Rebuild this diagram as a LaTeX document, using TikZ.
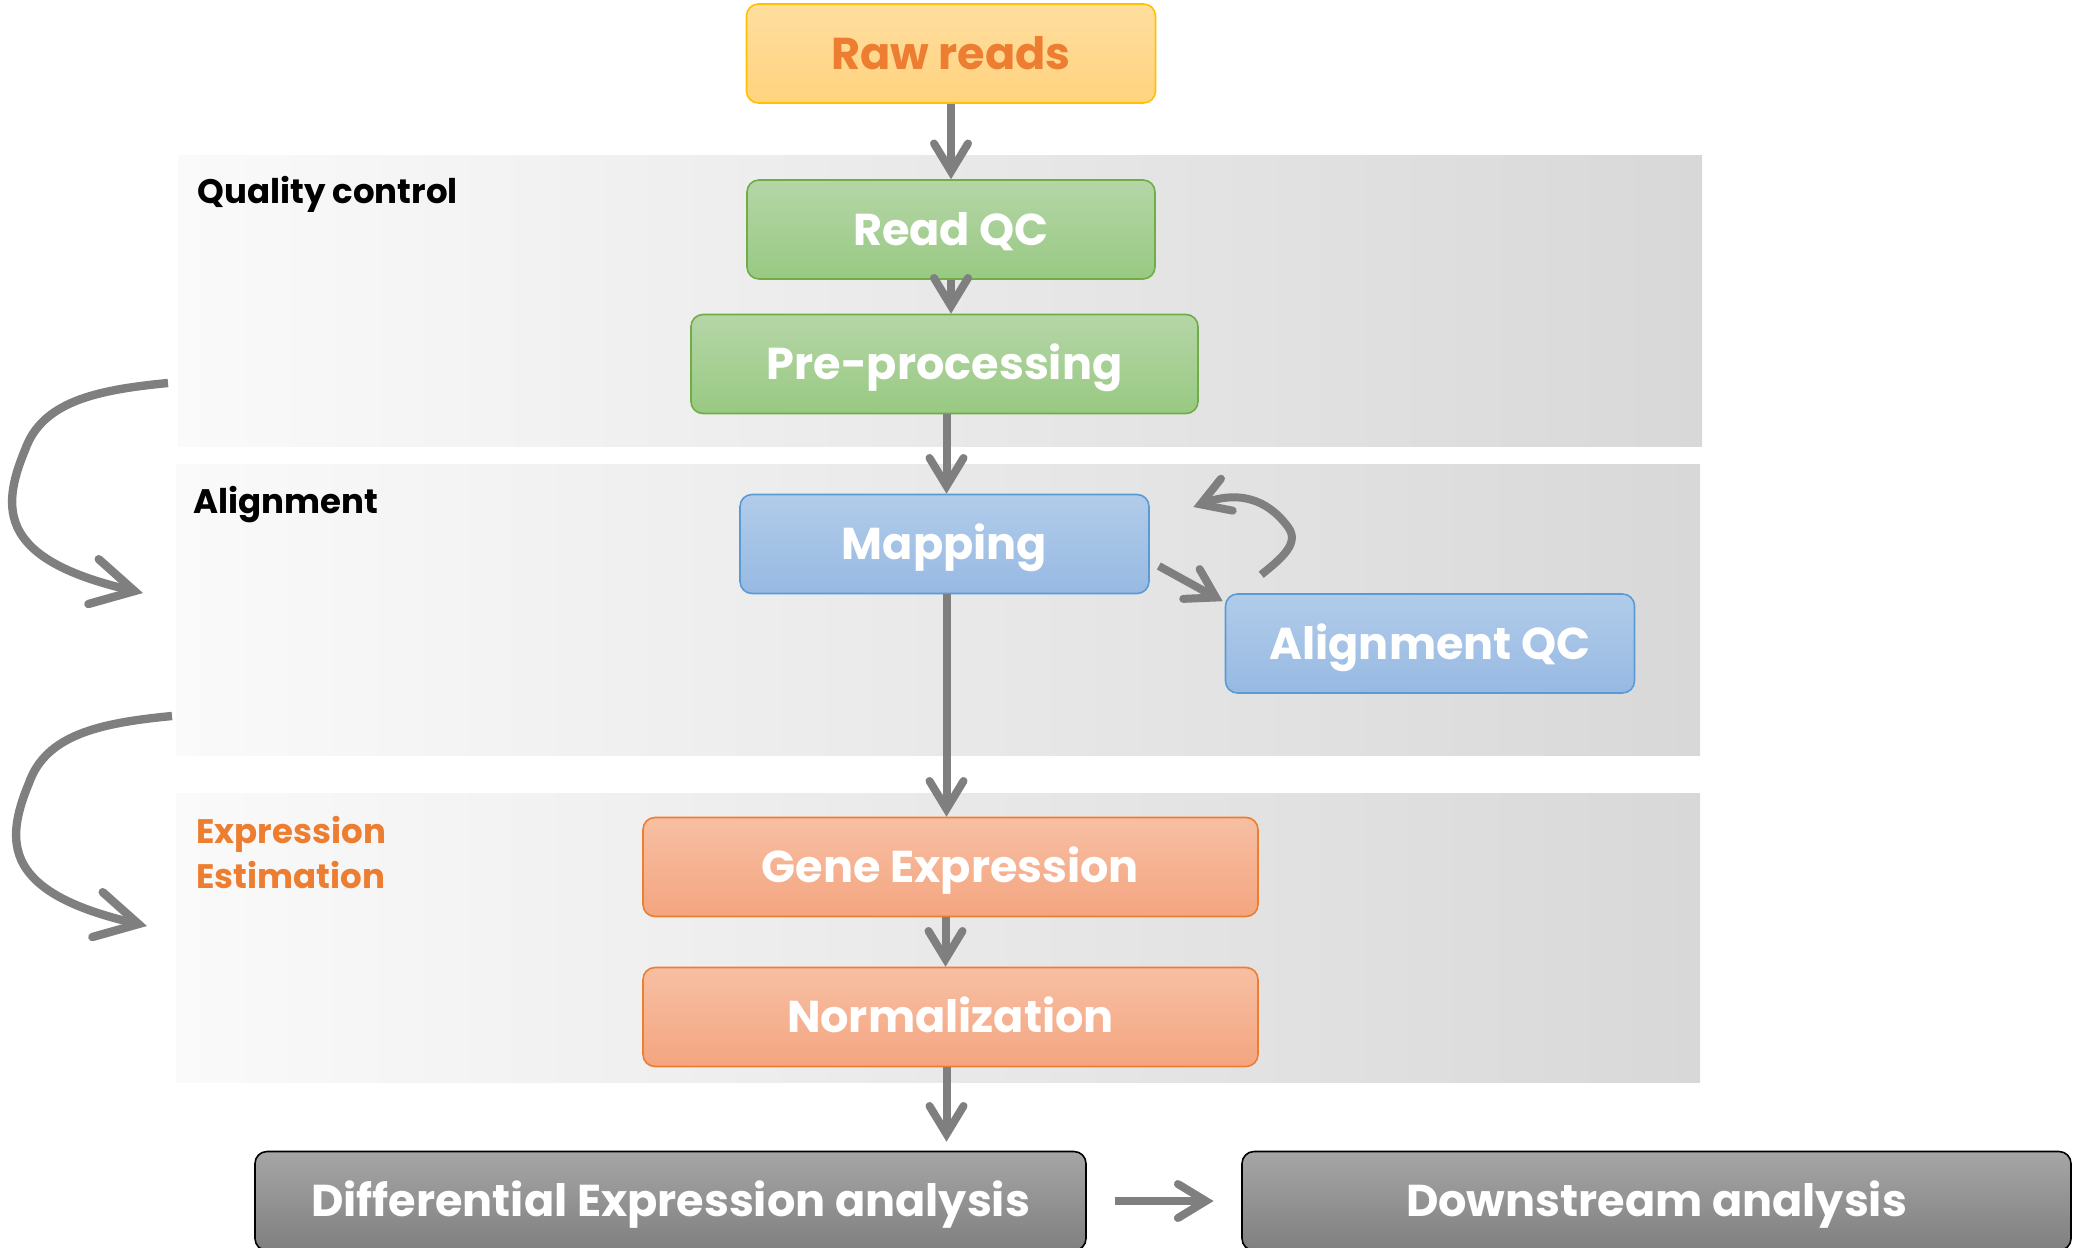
\documentclass[tikz,border=0pt]{standalone}
\usepackage{fontspec}
\setmainfont{Poppins}
\usetikzlibrary{arrows.meta,calc}

% palette
\definecolor{arrowgray}{HTML}{7F7F7F}
\definecolor{bandleft}{HTML}{FAFAFA}
\definecolor{bandright}{HTML}{D8D8D8}
\definecolor{rawtop}{HTML}{FFDE9F}
\definecolor{rawbot}{HTML}{FFD37F}
\definecolor{rawedge}{HTML}{FFC000}
\definecolor{accent}{HTML}{ED7D31}
\definecolor{greentop}{HTML}{B5D6A7}
\definecolor{greenbot}{HTML}{98C982}
\definecolor{greenedge}{HTML}{70AD47}
\definecolor{bluetop}{HTML}{B1CCEA}
\definecolor{bluebot}{HTML}{97B9E2}
\definecolor{blueedge}{HTML}{5B9BD5}
\definecolor{salmontop}{HTML}{F7BFA3}
\definecolor{salmonbot}{HTML}{F4A580}
\definecolor{greytop}{HTML}{A6A6A6}
\definecolor{greybot}{HTML}{7F7F7F}

\tikzset{
  stage/.style={rounded corners=6pt, line width=0.8pt, inner sep=0pt,
    minimum height=49.5pt, text=white, text height=15.6pt, text depth=0pt,
    font=\bfseries\fontsize{22.3}{27}\selectfont},
  rawbox/.style={stage, draw=rawedge, top color=rawtop, bottom color=rawbot, text=accent},
  qcbox/.style={stage, draw=greenedge, top color=greentop, bottom color=greenbot},
  alnbox/.style={stage, draw=blueedge, top color=bluetop, bottom color=bluebot},
  exprbox/.style={stage, draw=accent, top color=salmontop, bottom color=salmonbot},
  outbox/.style={stage, draw=black, top color=greytop, bottom color=greybot},
  band/.style={inner sep=0pt, draw=none, left color=bandleft, right color=bandright},
  grouplabel/.style={anchor=base west, inner sep=0pt, text=black,
    font=\bfseries\fontsize{17}{22.5}\selectfont},
  flow/.style={draw=arrowgray, line width=4pt,
    -{Straight Barb[length=14pt, width=17pt, line cap=round, line join=miter]}},
  bigflow/.style={draw=arrowgray, line width=4.2pt,
    -{Straight Barb[length=21pt, width=23pt, line cap=round, line join=miter]}}
}

\begin{document}
\begin{tikzpicture}[x=0.5pt, y=-0.5pt]
\useasboundingbox (0,0) rectangle (2080,1247);
\clip (0,0) rectangle (2080,1247);

% stage bands
\node[band, minimum width=762pt, minimum height=145.5pt] (qcband) at (940,300.5) {};
\node[band, minimum width=762pt, minimum height=145.5pt] (alband) at (938,609.5) {};
\node[band, minimum width=762pt, minimum height=144.5pt] (exband) at (938,937.5) {};

% band titles
\node[grouplabel] (qclabel) at (197,203) {Quality control};
\node[grouplabel] (allabel) at (193,513) {Alignment};
\node[grouplabel, text=accent, align=left] (exlabel) at (196,888) {Expression\\Estimation};

% pipeline steps
\node[rawbox, minimum width=204.5pt] (raw) at (951,53.5) {Raw reads};
\node[qcbox, minimum width=204pt] (readqc) at (951,229.5) {Read QC};
\node[qcbox, minimum width=253.5pt] (prep) at (944.5,364) {Pre-processing};
\node[alnbox, minimum width=204.5pt] (map) at (944.5,544) {Mapping};
\node[alnbox, minimum width=204.5pt] (aqc) at (1430,643.5) {Alignment QC};
\node[exprbox, minimum width=307.5pt] (gene) at (950.5,867) {Gene Expression};
\node[exprbox, minimum width=307.5pt] (norm) at (950.5,1017) {Normalization};
\node[outbox, minimum width=415.5pt] (diff) at (670.5,1201) {Differential Expression analysis};
\node[outbox, minimum width=414.5pt] (down) at (1656.5,1201) {Downstream analysis};

% main flow
\draw[flow] (raw.south) -- (raw.south |- readqc.north);
\draw[flow] (readqc.south) -- (readqc.south |- prep.north);
\draw[flow] ([xshift=1pt]prep.south) -- ([xshift=1pt]prep.south |- map.north);
\draw[flow] ([xshift=1pt]map.south) -- ([xshift=1pt]map.south |- gene.north);
\draw[flow] ([xshift=-2.5pt]gene.south) -- ([xshift=-2.5pt]gene.south |- norm.north);
\draw[flow, shorten >=4.5pt] ([xshift=-2pt]norm.south) -- ([xshift=-2pt]norm.south |- diff.north);
\draw[flow, shorten <=14.3pt, shorten >=13.8pt] (diff.east) -- (down.west);

% alignment QC side loop
\draw[flow] ($(map.east)+(9,22)$) -- ($(aqc.north west)+(-2,8)$);
\coordinate (loopstart) at ($(aqc.north west)+(36.5,-18.5)$);
\coordinate (looptip) at ($(map.east)+(43.5,-37)$);
\draw[flow] (loopstart) .. controls (1282,558) and (1300,543) .. (1288,527)
  .. controls (1272,505) and (1245,488) .. (looptip);

% stage-to-stage arrows on the left
\coordinate (qcout) at (168,383);
\coordinate (alin) at (143,593);
\draw[bigflow] (qcout) .. controls (95,390) and (42,402) .. (25,450)
  .. controls (0,510) and (0,560) .. (alin);
\coordinate (alout) at (172,716);
\coordinate (exin) at (147,926);
\draw[bigflow] (alout) .. controls (99,723) and (46,735) .. (29,783)
  .. controls (4,843) and (4,893) .. (exin);
\end{tikzpicture}
\end{document}
